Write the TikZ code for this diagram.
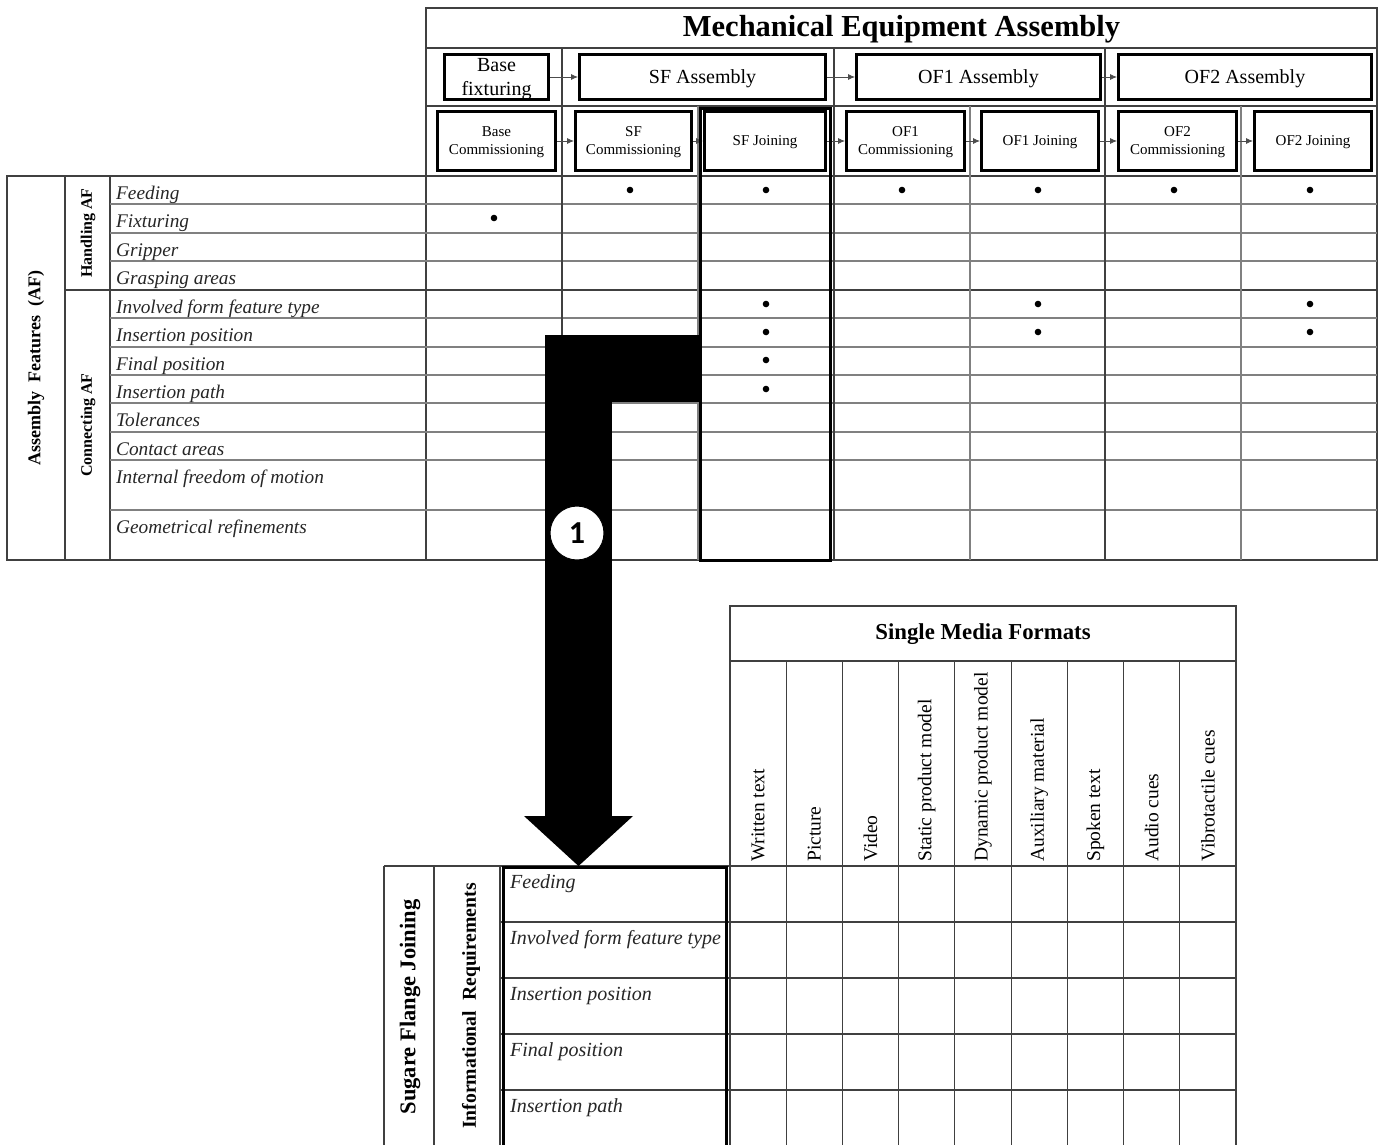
\documentclass[tikz,border=0pt]{standalone}
\usepackage{fontspec}
\setmainfont{Liberation Serif}
\newfontfamily\numfont{Carlito}
\usetikzlibrary{positioning,arrows.meta}

\tikzset{
  grid/.style={draw=black!50, line width=1.1pt},
  gridd/.style={draw=black!75, line width=1.2pt},
  stepbox/.style={draw, line width=2.6pt, align=center, inner sep=0pt, text depth=0pt, minimum height=45.4pt, font=\fontsize{20}{24}\selectfont},
  substep/.style={stepbox, minimum height=59.4pt, font=\fontsize{15}{18}\selectfont},
  flow/.style={-{Latex[length=7pt,width=6pt]}, line width=0.8pt, draw=black!70},
  feat/.style={anchor=base west, inner sep=0pt, font=\fontsize{19.3}{22}\selectfont\itshape, text=black!85},
  media/.style={rotate=90, anchor=west, inner sep=0pt, font=\fontsize{19.5}{22}\selectfont},
  bigarrow/.style={line width=67pt, -{Triangle[width=109pt,length=50pt,line width=0pt]}}
}

\begin{document}
\begin{tikzpicture}[x=1pt, y=-1pt]
  \useasboundingbox[fill=white] (0,0) rectangle (1387,1144);
  \clip (0,0) rectangle (1387,1144);

  % upper table: grid
  \draw[gridd] (426,8) rectangle (1377,560);
  \draw[gridd] (7,176) rectangle (426,560);
  \draw[gridd] (426,48) -- (1377,48);
  \draw[gridd] (426,106) -- (1377,106);
  \draw[gridd] (7,176) -- (1377,176);
  \draw[gridd] (65,176) -- (65,560);
  \draw[gridd] (110,176) -- (110,560);
  \foreach \y in {204,233,261,318,347,375,403,432,460,510}
    \draw[grid] (110,\y) -- (1377,\y);
  \draw[gridd] (65,290) -- (1377,290);
  \foreach \x in {698,970,1241}
    \draw[grid] (\x,106) -- (\x,560);
  \foreach \x in {562,834,1105}
    \draw[gridd] (\x,48) -- (\x,560);

  % upper table: header
  \node[font=\fontsize{30.5}{34}\selectfont\bfseries] (title) at (901.5,29) {Mechanical Equipment Assembly};

  \node[stepbox, minimum width=104.4pt] (basefix) at (496.5,77) {Base\\fixturing};
  \node[stepbox, minimum width=246.4pt, right=28pt of basefix] (sfasm) {SF Assembly};
  \node[stepbox, minimum width=244.4pt, right=28pt of sfasm] (ofoneasm) {OF1 Assembly};
  \node[stepbox, minimum width=253.4pt, right=15pt of ofoneasm] (oftwoasm) {OF2 Assembly};

  \node[substep, minimum width=118.4pt] (basecom) at (496.5,141) {Base\\Commissioning};
  \node[substep, minimum width=116.4pt, right=17pt of basecom] (sfcom) {SF\\Commissioning};
  \node[substep, minimum width=121.4pt, right=10pt of sfcom] (sfjoin) {SF Joining};
  \node[substep, minimum width=118.4pt, right=18pt of sfjoin] (ofonecom) {OF1\\Commissioning};
  \node[substep, minimum width=117.4pt, right=14pt of ofonecom] (ofonejoin) {OF1 Joining};
  \node[substep, minimum width=118.4pt, right=17pt of ofonejoin] (oftwocom) {OF2\\Commissioning};
  \node[substep, minimum width=117.4pt, right=15pt of oftwocom] (oftwojoin) {OF2 Joining};

  \draw[flow] (basefix) -- (sfasm);
  \draw[flow] (sfasm) -- (ofoneasm);
  \draw[flow] (ofoneasm) -- (oftwoasm);
  \draw[flow] (basecom) -- (sfcom);
  \draw[flow] (sfcom) -- (sfjoin);
  \draw[flow] (sfjoin) -- (ofonecom);
  \draw[flow] (ofonecom) -- (ofonejoin);
  \draw[flow] (ofonejoin) -- (oftwocom);
  \draw[flow] (oftwocom) -- (oftwojoin);

  % upper table: row labels
  \node[rotate=90, font=\fontsize{18}{20}\selectfont\bfseries] (aflabel) at (36,368) {Assembly\ \ Features\ \ (AF)};
  \node[rotate=90, font=\fontsize{16}{18}\selectfont\bfseries] (hafl) at (88,233) {Handling AF};
  \node[rotate=90, font=\fontsize{16}{18}\selectfont\bfseries] (cafl) at (88,425) {Connecting AF};

  \foreach \t/\y [count=\i] in {Feeding/176, Fixturing/204, Gripper/233, Grasping areas/261,
      Involved form feature type/290, Insertion position/318, Final position/347,
      Insertion path/375, Tolerances/403, Contact areas/432,
      Internal freedom of motion/460, Geometrical refinements/510}
    \node[feat] (feat\i) at (116,\y+23) {\t};

  \foreach \x/\y in {630/190, 766/190, 902/190, 1038/190, 1174/190, 1310/190,
      494/218, 766/304, 1038/304, 1310/304, 766/332, 1038/332, 1310/332,
      766/360, 766/389}
    \fill (\x,\y) circle (3.3pt);

  % highlighted column
  \node[draw, line width=3.5pt, minimum width=130pt, minimum height=452pt, inner sep=0pt] (sfcol) at (765.5,334.5) {};

  % lower table
  \draw[gridd] (730,606) rectangle (1236,661);
  \node[font=\fontsize{22.8}{26}\selectfont\bfseries] (smf) at (983,634) {Single Media Formats};
  \foreach \i in {0,...,9}
    \draw[gridd] ({730+56.22*\i},661) -- ({730+56.22*\i},1150);
  \draw[gridd] (384,866) -- (1236,866);
  \foreach \y in {922,978,1034,1090}
    \draw[gridd] (500,\y) -- (1236,\y);
  \foreach \x in {384,434,500}
    \draw[gridd] (\x,866) -- (\x,1150);

  \foreach \t [count=\i] in {Written text, Picture, Video, Static product model,
      Dynamic product model, Auxiliary material, Spoken text, Audio cues, Vibrotactile cues}
    \node[media] (med\i) at ({730+56.22*(\i-0.5)},862) {\t};

  \node[rotate=90, font=\fontsize{22.5}{24}\selectfont\bfseries] (sfjlabel) at (410,1007) {Sugare\ Flange\ Joining};
  \node[rotate=90, font=\fontsize{19.7}{22}\selectfont\bfseries] (inreq) at (471,1006) {Informational\ \ Requirements};

  \foreach \t/\y [count=\i] in {Feeding/866, Involved form feature type/922,
      Insertion position/978, Final position/1034, Insertion path/1090}
    \node[feat, font=\fontsize{20}{22}\selectfont\itshape] (req\i) at (510,\y+22) {\t};

  \node[draw, line width=3.2pt, inner sep=0pt, minimum width=223pt, minimum height=320pt, anchor=north west] (lframe) at (502,866) {};

  % transfer arrow
  \coordinate (turn) at (578.5,368);
  \draw[bigarrow] (sfcol.west |- turn) -- (turn) -- (turn |- lframe.north);
  \node[circle, draw, fill=white, line width=1pt, minimum size=54pt, inner sep=0pt,
        font=\numfont\fontsize{32}{32}\selectfont\bfseries] (one) at (577,533) {1};
\end{tikzpicture}
\end{document}
